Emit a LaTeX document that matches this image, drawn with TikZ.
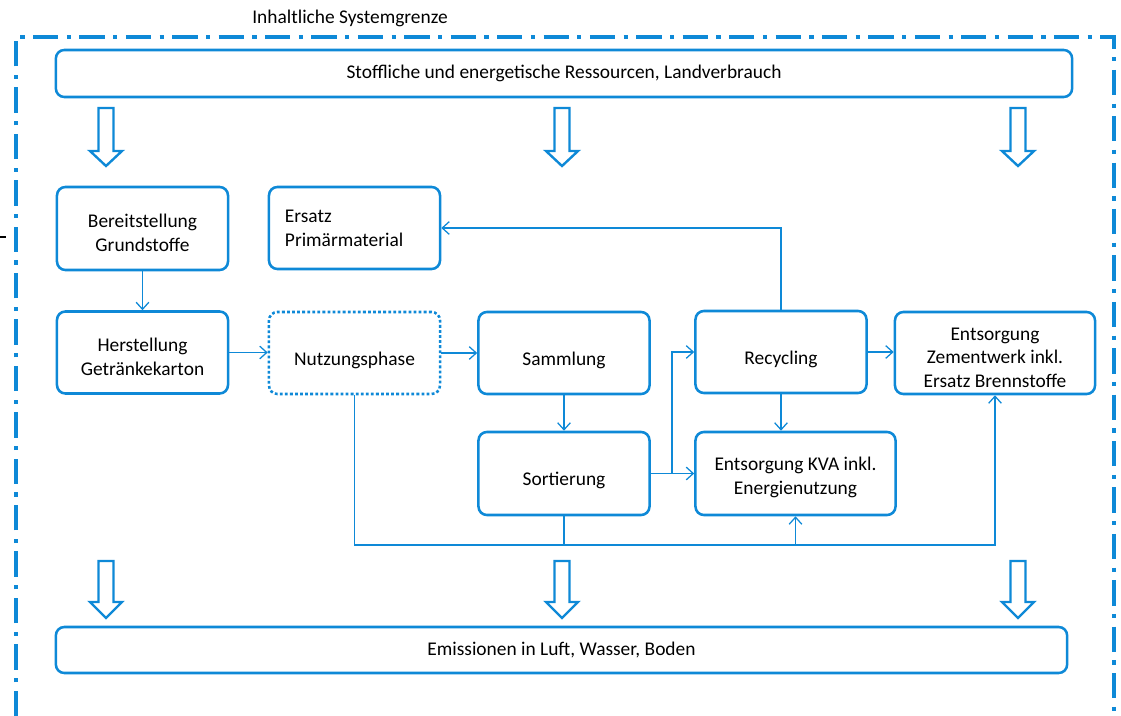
\documentclass[tikz,border=0pt]{standalone}
\usepackage{fontspec}
\setmainfont{Carlito}
\usetikzlibrary{arrows.meta}
\definecolor{sysblau}{RGB}{14,137,215}
\tikzset{
  rahmen/.style={draw=sysblau, line width=1.8pt, rounded corners=6pt,
    minimum width=4.275cm, minimum height=2.05cm, align=flush center,
    font=\fontsize{13.8}{17}\selectfont},
  kasten/.style={rahmen, text width=3.875cm, inner xsep=0.2cm,
    execute at begin node={\rule{0pt}{#1}}},
  kasten/.default=15.7pt,
  breit/.style={kasten=#1, text width=4.6cm, minimum width=5cm},
  breit/.default=15.7pt,
  leiste/.style={rahmen, minimum height=1.15cm},
  gepunktet/.style={dash pattern=on 2pt off 1.6pt},
  fluss/.style={draw=sysblau, line width=0.9pt, -{Straight Barb[length=5pt,width=9pt]}},
  linie/.style={draw=sysblau, line width=0.9pt},
  dickpfeil/.style={draw=sysblau, fill=white, line width=1.7pt, line join=miter},
  grenze/.style={draw=sysblau, line width=2.2pt,
    dash pattern=on 18pt off 6pt on 3pt off 6pt}
}
\begin{document}
\begin{tikzpicture}[x=0.025cm,y=-0.025cm]
\useasboundingbox (0,0) rectangle (1121,716);
% Systemgrenze
\draw[grenze] (16,716) -- (16,37) -- (1114,37) -- (1114,716);
\node[font=\fontsize{13.8}{17}\selectfont] (titel) at (350,18) {Inhaltliche Systemgrenze};
\draw[line width=1.4pt] (0,237) -- (6,237);
% Leisten oben und unten
\node[leiste, minimum width=25.4cm, minimum height=1.175cm] (ressourcen) at (564,73.5)
  {Stoffliche und energetische Ressourcen, Landverbrauch};
\node[leiste, minimum width=25.275cm] (emissionen) at (561.5,650)
  {Emissionen in Luft, Wasser, Boden};
\foreach \ax in {106,562,1018} {
  \draw[dickpfeil] (\ax-7.5,108) -- (\ax+7.5,108) -- (\ax+7.5,151) -- (\ax+16,151)
    -- (\ax,166) -- (\ax-16,151) -- (\ax-7.5,151) -- cycle;
  \draw[dickpfeil] (\ax-7.5,561) -- (\ax+7.5,561) -- (\ax+7.5,602) -- (\ax+16,602)
    -- (\ax,618) -- (\ax-16,602) -- (\ax-7.5,602) -- cycle;
}
% Prozesse
\node[kasten, minimum height=2.075cm] (bereit) at (142.5,228.5) {Bereitstellung\\Grundstoffe};
\node[rahmen, text width=3.475cm, inner xsep=0.4cm, align=flush left] (ersatz) at (354.5,228)
  {Ersatz\\Primärmaterial};
\node[kasten] (herst) at (142.5,352.5) {Herstellung\\Getränkekarton};
\node[kasten=20pt, gepunktet] (nutzung) at (354.5,353) {Nutzungsphase};
\node[kasten=20pt] (sammlung) at (564,353) {Sammlung};
\node[kasten=20pt, minimum height=2.075cm] (sortierung) at (564,473.5) {Sortierung};
\node[kasten=20pt] (recycling) at (781,352) {Recycling};
\node[breit, minimum height=2.075cm] (kva) at (795.5,473.5) {Entsorgung KVA inkl.\\Energienutzung};
\node[breit] (zement) at (995,353) {Entsorgung\\Zementwerk inkl.\\Ersatz Brennstoffe};
% Fluesse
\coordinate (weiche) at (672,473.5);
\coordinate (sammel) at (354.5,545);
\draw[fluss] (bereit) -- (herst);
\draw[fluss] (herst.east) -- (herst.east -| nutzung.west);
\draw[fluss] (nutzung) -- (sammlung);
\draw[fluss] (sammlung) -- (sortierung);
\draw[linie] (sortierung.east) -- (weiche);
\draw[fluss] (weiche) -- (kva.west);
\draw[fluss] (weiche) |- (recycling.west);
\draw[fluss] (recycling.east) -- (recycling.east -| zement.west);
\draw[fluss] (recycling.south) -- (recycling.south |- kva.north);
\draw[fluss] (recycling.north) |- (ersatz.east);
\draw[fluss] (nutzung.south) -- (sammel) -| (zement.south);
\draw[linie] (sortierung.south) -- (sortierung.south |- sammel);
\draw[fluss] (kva.south |- sammel) -- (kva.south);
\end{tikzpicture}
\end{document}
